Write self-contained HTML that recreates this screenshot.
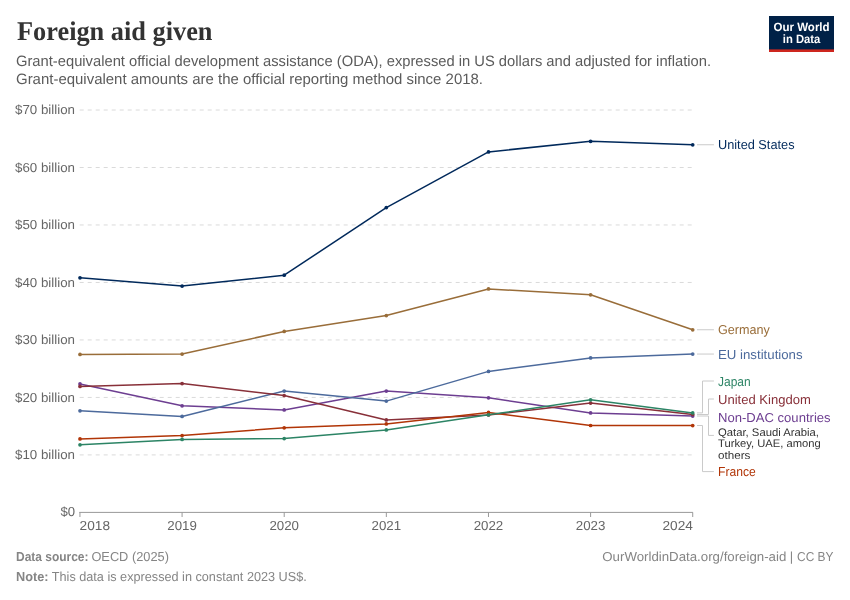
<!DOCTYPE html>
<html lang="en"><head><meta charset="utf-8"><title>Foreign aid given</title>
<style>
html,body{margin:0;padding:0;background:#fff;}
body{width:850px;height:600px;overflow:hidden;}
svg{display:block;text-rendering:geometricPrecision;}
text{font-family:"Liberation Sans",sans-serif;}
.ttl{font-family:"Liberation Serif",serif;font-weight:bold;}
</style></head><body>
<svg width="850" height="600" viewBox="0 0 850 600">
<rect width="850" height="600" fill="#fff"/>

<text class="ttl" x="17" y="39.5" font-size="27" fill="#333" textLength="195.5" lengthAdjust="spacingAndGlyphs">Foreign aid given</text>
<text x="16" y="66" font-size="15" fill="#5b5b5b" textLength="695" lengthAdjust="spacingAndGlyphs">Grant-equivalent official development assistance (ODA), expressed in US dollars and adjusted for inflation.</text>
<text x="16" y="84" font-size="15" fill="#5b5b5b" textLength="467" lengthAdjust="spacingAndGlyphs">Grant-equivalent amounts are the official reporting method since 2018.</text>
<rect x="769" y="16" width="65" height="36" fill="#002147"/>
<rect x="769" y="49.4" width="65" height="2.6" fill="#ce261e"/>
<text x="801.6" y="30.7" font-size="12" font-weight="bold" fill="#fff" text-anchor="middle" textLength="56" lengthAdjust="spacingAndGlyphs">Our World</text>
<text x="801.6" y="42.6" font-size="12" font-weight="bold" fill="#fff" text-anchor="middle" textLength="37.5" lengthAdjust="spacingAndGlyphs">in Data</text>
<line x1="79.7" x2="692.4" y1="454.91" y2="454.91" stroke="#dadada" stroke-width="1" stroke-dasharray="4,4"/>
<text x="75" y="459.31" font-size="13" fill="#666" text-anchor="end" textLength="60" lengthAdjust="spacingAndGlyphs">$10 billion</text>
<line x1="79.7" x2="692.4" y1="397.43" y2="397.43" stroke="#dadada" stroke-width="1" stroke-dasharray="4,4"/>
<text x="75" y="401.83" font-size="13" fill="#666" text-anchor="end" textLength="60" lengthAdjust="spacingAndGlyphs">$20 billion</text>
<line x1="79.7" x2="692.4" y1="339.94" y2="339.94" stroke="#dadada" stroke-width="1" stroke-dasharray="4,4"/>
<text x="75" y="344.34" font-size="13" fill="#666" text-anchor="end" textLength="60" lengthAdjust="spacingAndGlyphs">$30 billion</text>
<line x1="79.7" x2="692.4" y1="282.46" y2="282.46" stroke="#dadada" stroke-width="1" stroke-dasharray="4,4"/>
<text x="75" y="286.86" font-size="13" fill="#666" text-anchor="end" textLength="60" lengthAdjust="spacingAndGlyphs">$40 billion</text>
<line x1="79.7" x2="692.4" y1="224.97" y2="224.97" stroke="#dadada" stroke-width="1" stroke-dasharray="4,4"/>
<text x="75" y="229.37" font-size="13" fill="#666" text-anchor="end" textLength="60" lengthAdjust="spacingAndGlyphs">$50 billion</text>
<line x1="79.7" x2="692.4" y1="167.49" y2="167.49" stroke="#dadada" stroke-width="1" stroke-dasharray="4,4"/>
<text x="75" y="171.89" font-size="13" fill="#666" text-anchor="end" textLength="60" lengthAdjust="spacingAndGlyphs">$60 billion</text>
<line x1="79.7" x2="692.4" y1="110.00" y2="110.00" stroke="#dadada" stroke-width="1" stroke-dasharray="4,4"/>
<text x="75" y="114.41" font-size="13" fill="#666" text-anchor="end" textLength="60" lengthAdjust="spacingAndGlyphs">$70 billion</text>
<text x="75" y="516.3" font-size="13" fill="#666" text-anchor="end" textLength="14.6" lengthAdjust="spacingAndGlyphs">$0</text>
<line x1="79.2" x2="692.9" y1="512.4" y2="512.4" stroke="#999" stroke-width="1"/>
<line x1="79.95" x2="79.95" y1="512.4" y2="517" stroke="#999" stroke-width="1"/>
<text x="79.6" y="530" font-size="13" fill="#666" textLength="30.4" lengthAdjust="spacingAndGlyphs">2018</text>
<line x1="182.08" x2="182.08" y1="512.4" y2="517" stroke="#999" stroke-width="1"/>
<text x="182.08" y="530" font-size="13" fill="#666" text-anchor="middle" textLength="29.6" lengthAdjust="spacingAndGlyphs">2019</text>
<line x1="284.21" x2="284.21" y1="512.4" y2="517" stroke="#999" stroke-width="1"/>
<text x="284.21" y="530" font-size="13" fill="#666" text-anchor="middle" textLength="29.6" lengthAdjust="spacingAndGlyphs">2020</text>
<line x1="386.34" x2="386.34" y1="512.4" y2="517" stroke="#999" stroke-width="1"/>
<text x="386.34" y="530" font-size="13" fill="#666" text-anchor="middle" textLength="29.6" lengthAdjust="spacingAndGlyphs">2021</text>
<line x1="488.47" x2="488.47" y1="512.4" y2="517" stroke="#999" stroke-width="1"/>
<text x="488.47" y="530" font-size="13" fill="#666" text-anchor="middle" textLength="29.6" lengthAdjust="spacingAndGlyphs">2022</text>
<line x1="590.60" x2="590.60" y1="512.4" y2="517" stroke="#999" stroke-width="1"/>
<text x="590.60" y="530" font-size="13" fill="#666" text-anchor="middle" textLength="29.6" lengthAdjust="spacingAndGlyphs">2023</text>
<line x1="692.73" x2="692.73" y1="512.4" y2="517" stroke="#999" stroke-width="1"/>
<text x="692.9" y="530" font-size="13" fill="#666" text-anchor="end" textLength="30.4" lengthAdjust="spacingAndGlyphs">2024</text>
<g fill="#00295B" stroke="none"><polyline points="80.0,277.8 182.1,286.1 284.2,275.2 386.3,207.6 488.5,151.9 590.6,141.3 692.7,144.8" fill="none" stroke="#00295B" stroke-width="1.5" stroke-linejoin="round" stroke-linecap="round"/>
<circle cx="80.0" cy="277.8" r="1.85"/>
<circle cx="182.1" cy="286.1" r="1.85"/>
<circle cx="284.2" cy="275.2" r="1.85"/>
<circle cx="386.3" cy="207.6" r="1.85"/>
<circle cx="488.5" cy="151.9" r="1.85"/>
<circle cx="590.6" cy="141.3" r="1.85"/>
<circle cx="692.7" cy="144.8" r="1.85"/>
</g>
<g fill="#996D39" stroke="none"><polyline points="80.0,354.4 182.1,354.1 284.2,331.4 386.3,315.6 488.5,288.9 590.6,294.8 692.7,329.8" fill="none" stroke="#996D39" stroke-width="1.5" stroke-linejoin="round" stroke-linecap="round"/>
<circle cx="80.0" cy="354.4" r="1.85"/>
<circle cx="182.1" cy="354.1" r="1.85"/>
<circle cx="284.2" cy="331.4" r="1.85"/>
<circle cx="386.3" cy="315.6" r="1.85"/>
<circle cx="488.5" cy="288.9" r="1.85"/>
<circle cx="590.6" cy="294.8" r="1.85"/>
<circle cx="692.7" cy="329.8" r="1.85"/>
</g>
<g fill="#6D3E91" stroke="none"><polyline points="80.0,383.9 182.1,405.8 284.2,409.9 386.3,391.1 488.5,397.8 590.6,412.9 692.7,416.1" fill="none" stroke="#6D3E91" stroke-width="1.5" stroke-linejoin="round" stroke-linecap="round"/>
<circle cx="80.0" cy="383.9" r="1.85"/>
<circle cx="182.1" cy="405.8" r="1.85"/>
<circle cx="284.2" cy="409.9" r="1.85"/>
<circle cx="386.3" cy="391.1" r="1.85"/>
<circle cx="488.5" cy="397.8" r="1.85"/>
<circle cx="590.6" cy="412.9" r="1.85"/>
<circle cx="692.7" cy="416.1" r="1.85"/>
</g>
<g fill="#4C6A9C" stroke="none"><polyline points="80.0,410.8 182.1,416.4 284.2,391.1 386.3,401.1 488.5,371.4 590.6,357.9 692.7,354.1" fill="none" stroke="#4C6A9C" stroke-width="1.5" stroke-linejoin="round" stroke-linecap="round"/>
<circle cx="80.0" cy="410.8" r="1.85"/>
<circle cx="182.1" cy="416.4" r="1.85"/>
<circle cx="284.2" cy="391.1" r="1.85"/>
<circle cx="386.3" cy="401.1" r="1.85"/>
<circle cx="488.5" cy="371.4" r="1.85"/>
<circle cx="590.6" cy="357.9" r="1.85"/>
<circle cx="692.7" cy="354.1" r="1.85"/>
</g>
<g fill="#883039" stroke="none"><polyline points="80.0,386.4 182.1,383.6 284.2,395.6 386.3,419.9 488.5,414.9 590.6,403.1 692.7,414.5" fill="none" stroke="#883039" stroke-width="1.5" stroke-linejoin="round" stroke-linecap="round"/>
<circle cx="80.0" cy="386.4" r="1.85"/>
<circle cx="182.1" cy="383.6" r="1.85"/>
<circle cx="284.2" cy="395.6" r="1.85"/>
<circle cx="386.3" cy="419.9" r="1.85"/>
<circle cx="488.5" cy="414.9" r="1.85"/>
<circle cx="590.6" cy="403.1" r="1.85"/>
<circle cx="692.7" cy="414.5" r="1.85"/>
</g>
<g fill="#B13507" stroke="none"><polyline points="80.0,438.9 182.1,435.6 284.2,427.8 386.3,423.9 488.5,412.4 590.6,425.5 692.7,425.6" fill="none" stroke="#B13507" stroke-width="1.5" stroke-linejoin="round" stroke-linecap="round"/>
<circle cx="80.0" cy="438.9" r="1.85"/>
<circle cx="182.1" cy="435.6" r="1.85"/>
<circle cx="284.2" cy="427.8" r="1.85"/>
<circle cx="386.3" cy="423.9" r="1.85"/>
<circle cx="488.5" cy="412.4" r="1.85"/>
<circle cx="590.6" cy="425.5" r="1.85"/>
<circle cx="692.7" cy="425.6" r="1.85"/>
</g>
<g fill="#2C8465" stroke="none"><polyline points="80.0,444.8 182.1,439.4 284.2,438.6 386.3,429.9 488.5,414.8 590.6,399.8 692.7,412.9" fill="none" stroke="#2C8465" stroke-width="1.5" stroke-linejoin="round" stroke-linecap="round"/>
<circle cx="80.0" cy="444.8" r="1.85"/>
<circle cx="182.1" cy="439.4" r="1.85"/>
<circle cx="284.2" cy="438.6" r="1.85"/>
<circle cx="386.3" cy="429.9" r="1.85"/>
<circle cx="488.5" cy="414.8" r="1.85"/>
<circle cx="590.6" cy="399.8" r="1.85"/>
<circle cx="692.7" cy="412.9" r="1.85"/>
</g>
<g fill="none" stroke="#cacaca" stroke-width="1">
<path d="M697 144.75H713.9"/>
<path d="M697 329.75H713.9"/>
<path d="M697 354.05H713.9"/>
<path d="M697 412.9H702.5V381H713.9"/>
<path d="M697 414.5H708.5V399H713.9"/>
<path d="M697 416H708.5V435.4H713.9"/>
<path d="M697 425.5H702.5V471.6H713.9"/>
</g>
<text x="718" y="149.0" font-size="13" fill="#00295B" textLength="76.5" lengthAdjust="spacingAndGlyphs">United States</text>
<text x="718" y="334.3" font-size="13" fill="#996D39" textLength="51.8" lengthAdjust="spacingAndGlyphs">Germany</text>
<text x="718" y="358.7" font-size="13" fill="#4C6A9C" textLength="84.6" lengthAdjust="spacingAndGlyphs">EU institutions</text>
<text x="718" y="385.6" font-size="13" fill="#2C8465" textLength="32.6" lengthAdjust="spacingAndGlyphs">Japan</text>
<text x="718" y="403.7" font-size="13" fill="#883039" textLength="92.8" lengthAdjust="spacingAndGlyphs">United Kingdom</text>
<text x="718" y="421.8" font-size="13" fill="#6D3E91" textLength="112.6" lengthAdjust="spacingAndGlyphs">Non-DAC countries</text>
<text x="718" y="435.8" font-size="11" fill="#333" textLength="101" lengthAdjust="spacingAndGlyphs">Qatar, Saudi Arabia,</text>
<text x="718" y="447.2" font-size="11" fill="#333" textLength="102.7" lengthAdjust="spacingAndGlyphs">Turkey, UAE, among</text>
<text x="718" y="458.7" font-size="11" fill="#333" textLength="32.4" lengthAdjust="spacingAndGlyphs">others</text>
<text x="718" y="476.3" font-size="13" fill="#B13507" textLength="37.7" lengthAdjust="spacingAndGlyphs">France</text>
<text x="16" y="560.7" font-size="13" fill="#858585"><tspan font-weight="bold" textLength="72.5" lengthAdjust="spacingAndGlyphs">Data source:</tspan></text>
<text x="91.4" y="560.7" font-size="13" fill="#858585" textLength="77.5" lengthAdjust="spacingAndGlyphs">OECD (2025)</text>
<text x="16" y="580.7" font-size="13" fill="#858585" font-weight="bold" textLength="32.5" lengthAdjust="spacingAndGlyphs">Note:</text>
<text x="51.8" y="580.7" font-size="13" fill="#858585" textLength="255" lengthAdjust="spacingAndGlyphs">This data is expressed in constant 2023 US$.</text>
<text x="602.3" y="561" font-size="13" fill="#858585" textLength="184" lengthAdjust="spacingAndGlyphs">OurWorldinData.org/foreign-aid</text>
<text x="789.8" y="561" font-size="13" fill="#858585">|</text>
<text x="833.5" y="561" font-size="13" fill="#858585" text-anchor="end" textLength="36.4" lengthAdjust="spacingAndGlyphs">CC BY</text>
</svg></body></html>
